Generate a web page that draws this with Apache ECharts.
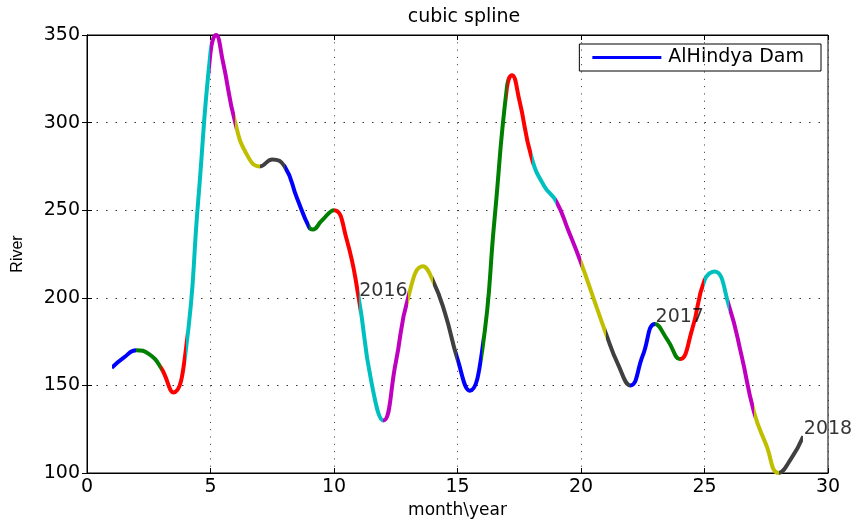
<!DOCTYPE html>
<html>
<head>
<meta charset="utf-8">
<script src="https://cdn.jsdelivr.net/npm/echarts@6/dist/echarts.min.js"></script>
<style>
  html, body { margin: 0; padding: 0; background: #fff; }
  #chart { width: 861px; height: 519px; }
</style>
</head>
<body>
<div id="chart"></div>
<script>
// points (knots at whole months plus in-between readings)
const months = [1, 1.5, 2, 2.5, 3, 3.5, 4, 4.5, 5, 5.22, 5.5, 6, 6.5, 7, 7.5, 8, 8.5, 9, 9.14, 9.5,
  10, 10.5, 11, 11.5, 12, 12.5, 13, 13.6, 14, 14.5, 15, 15.5, 16, 16.5, 17, 17.2, 17.5, 18, 18.5, 19,
  19.5, 20, 20.5, 21, 21.5, 22, 22.5, 23, 23.5, 24, 24.5, 25, 25.4, 26, 26.5, 27, 27.5, 28, 28.5, 29];
const river = [160, 166, 170, 168, 160, 146, 170, 255, 340, 350, 335, 300, 281, 275, 279, 275, 257, 240, 239, 244,
  250, 234, 200, 153, 130, 163, 200, 218, 210, 191, 165, 147, 170, 245, 320, 327, 313, 280, 264, 255,
  238, 220, 200, 180, 162, 150, 167, 185, 176, 165, 182, 210, 215, 195, 167, 135, 116, 100, 108, 121];

const yearX = [11, 23, 29];
const yearY = [200, 185, 121];
const yearText = ['2016', '2017', '2018'];

const segColors = ['#0000ff', '#008000', '#ff0000', '#00bfbf', '#bf00bf', '#bfbf00', '#404040'];

const font = "'DejaVu Sans', Verdana, sans-serif";
const fs = 19;

const pieces = [];
for (let i = 1; i < 29; i++) {
  pieces.push({ gte: i, lt: i + 1, color: segColors[(i - 1) % segColors.length] });
}

const chart = echarts.init(document.getElementById('chart'));
chart.setOption({
  animation: false,
  title: {
    text: 'cubic spline',
    left: 459,
    textAlign: 'center',
    top: 3,
    textStyle: { fontSize: fs, fontWeight: 'normal', color: '#000', fontFamily: font }
  },
  legend: {
    data: [{ name: 'AlHindya Dam', icon: 'rect' }],
    right: 40,
    top: 44,
    orient: 'vertical',
    borderColor: '#000',
    borderWidth: 1,
    padding: [4, 17, 4, 13],
    itemWidth: 69,
    itemHeight: 3,
    itemGap: 0,
    textStyle: { fontSize: fs, color: '#000', fontFamily: font, padding: [0, 0, 0, 2] }
  },
  grid: {
    left: 87, right: 33, top: 35, bottom: 46,
    outerBoundsMode: 'none',
    show: true, borderColor: '#000', borderWidth: 1
  },
  visualMap: {
    type: 'piecewise',
    show: false,
    dimension: 0,
    seriesIndex: 0,
    pieces: pieces
  },
  xAxis: [{
    type: 'value',
    min: 0, max: 30, interval: 5,
    name: 'month\\year',
    nameLocation: 'middle',
    nameGap: 24,
    nameTextStyle: { fontSize: 17, color: '#000', fontFamily: font },
    axisLine: { show: true, lineStyle: { color: '#000' } },
    axisTick: { show: true, inside: true, length: 5, lineStyle: { color: '#000' } },
    axisLabel: { fontSize: fs, color: '#000', fontFamily: font, margin: 5 },
    splitLine: { show: true, lineStyle: { color: '#333', type: [1, 6.3], width: 1 } }
  }, {
    type: 'value',
    position: 'top',
    min: 0, max: 30, interval: 5,
    axisLine: { show: true, lineStyle: { color: '#000' } },
    axisTick: { show: true, inside: true, length: 5, lineStyle: { color: '#000' } },
    axisLabel: { show: false },
    splitLine: { show: false }
  }],
  yAxis: [{
    type: 'value',
    min: 100, max: 350, interval: 50,
    name: 'River',
    nameLocation: 'middle',
    nameGap: 61,
    nameTextStyle: { fontSize: 16, color: '#000', fontFamily: "'Liberation Sans', Arial, sans-serif" },
    axisLine: { show: true, lineStyle: { color: '#000' } },
    axisTick: { show: true, inside: true, length: 5, lineStyle: { color: '#000' } },
    axisLabel: { fontSize: fs, color: '#000', fontFamily: font, margin: 7 },
    splitLine: { show: true, lineStyle: { color: '#333', type: [1.5, 8], width: 1 } }
  }, {
    type: 'value',
    position: 'right',
    min: 100, max: 350, interval: 50,
    axisLine: { show: true, lineStyle: { color: '#000' } },
    axisTick: { show: true, inside: true, length: 5, lineStyle: { color: '#000' } },
    axisLabel: { show: false },
    splitLine: { show: false }
  }],
  series: [
    {
      name: 'spline',
      type: 'line',
      data: months.map((m, i) => [m, river[i]]),
      smooth: 0.5,
      showSymbol: false,
      lineStyle: { width: 4 },
      z: 3
    },
    {
      name: 'AlHindya Dam',
      type: 'line',
      data: [],
      itemStyle: { color: '#0000ff' },
      lineStyle: { color: '#0000ff' }
    },
    {
      name: 'years',
      type: 'scatter',
      data: yearX.map((x, i) => [x, yearY[i], yearText[i]]),
      symbolSize: 1,
      itemStyle: { color: 'rgba(0,0,0,0)' },
      label: {
        show: true,
        position: 'right',
        distance: 0,
        offset: [0, -7],
        formatter: p => p.value[2],
        fontSize: fs,
        color: '#000',
        fontFamily: font
      },
      z: 5
    }
  ]
});
</script>
</body>
</html>
